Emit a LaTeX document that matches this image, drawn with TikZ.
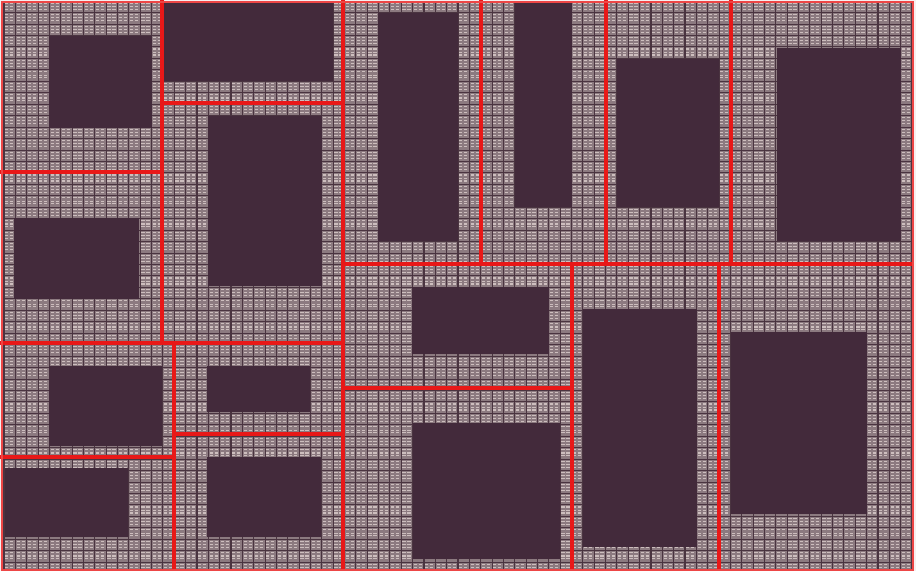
\documentclass[tikz,border=0pt]{standalone}
\definecolor{paper}{RGB}{246,240,240}
\definecolor{bg}{RGB}{140,122,128}
\definecolor{lite}{RGB}{205,190,190}
\definecolor{gridc}{RGB}{74,52,64}
\definecolor{block}{RGB}{67,42,59}
\definecolor{part}{RGB}{232,24,24}
\begin{document}
\begin{tikzpicture}[x=1pt,y=-1pt,
  blockbox/.style={fill=block},
  wall/.style={draw=part,line width=3.2pt},
  frame/.style={draw=part!80!white,line width=2pt}]
\useasboundingbox (0,0) rectangle (916,571);
\fill[paper] (0,0) rectangle (916,571);
\fill[bg] (1,1) rectangle (913,570);
\begin{scope}
\clip (1,1) rectangle (913,570);
% light marks of the texture
\foreach \r in {0,...,50} {
  \foreach \o in {3.2,6.4,9.2} {
    \draw[lite,line width=1.1pt,dash pattern=on 3.2pt off 1.8pt on 3.2pt off 3.15pt,dash phase=-1.2pt]
      (4,{\r*11.45+\o}) -- (916,{\r*11.45+\o});
  }
}
% dark grid of the texture
\foreach \c in {0,...,80} {
  \draw[gridc,line width=1.1pt] ({\c*11.35+4},0) -- ({\c*11.35+4},571);
}
\foreach \r in {0,...,50} {
  \draw[gridc,line width=0.7pt] (0,{\r*11.45+1}) -- (916,{\r*11.45+1});
}
\end{scope}
% dark blocks
\fill[blockbox] (49,36) rectangle (152,128);
\fill[blockbox] (163,3) rectangle (333,81);
\fill[blockbox] (208,116) rectangle (322,286);
\fill[blockbox] (14,218) rectangle (139,299);
\fill[blockbox] (378,13) rectangle (458,241);
\fill[blockbox] (515,3) rectangle (572,207);
\fill[blockbox] (617,59) rectangle (719,207);
\fill[blockbox] (777,48) rectangle (901,241);
\fill[blockbox] (412,287) rectangle (549,354);
\fill[blockbox] (49,366) rectangle (162,446);
\fill[blockbox] (207,366) rectangle (310,412);
\fill[blockbox] (5,468) rectangle (128,537);
\fill[blockbox] (207,457) rectangle (321,537);
\fill[blockbox] (413,423) rectangle (560,559);
\fill[blockbox] (583,309) rectangle (697,547);
\fill[blockbox] (731,332) rectangle (867,514);
% partition lines
\coordinate (a1) at (162,0);   \coordinate (a2) at (162,343);
\coordinate (b1) at (0,172);   \coordinate (b2) at (162,172);
\coordinate (c1) at (162,103); \coordinate (c2) at (343,103);
\coordinate (d1) at (343,0);   \coordinate (d2) at (343,571);
\coordinate (e1) at (0,343);   \coordinate (e2) at (343,343);
\coordinate (f1) at (174,343); \coordinate (f2) at (174,571);
\coordinate (g1) at (0,457);   \coordinate (g2) at (174,457);
\coordinate (h1) at (174,434); \coordinate (h2) at (343,434);
\coordinate (i1) at (343,264); \coordinate (i2) at (913,264);
\coordinate (j1) at (481,0);   \coordinate (j2) at (481,264);
\coordinate (k1) at (606,0);   \coordinate (k2) at (606,264);
\coordinate (l1) at (731,0);   \coordinate (l2) at (731,264);
\coordinate (m1) at (343,388); \coordinate (m2) at (572,388);
\coordinate (n1) at (572,264); \coordinate (n2) at (572,571);
\coordinate (o1) at (719,264); \coordinate (o2) at (719,571);
\foreach \p in {a,b,c,d,e,f,g,h,i,j,k,l,m,n,o} {
  \draw[wall] (\p1) -- (\p2);
}
\draw[frame] (1.5,1.5) rectangle (912.5,569.5);
\end{tikzpicture}
\end{document}
